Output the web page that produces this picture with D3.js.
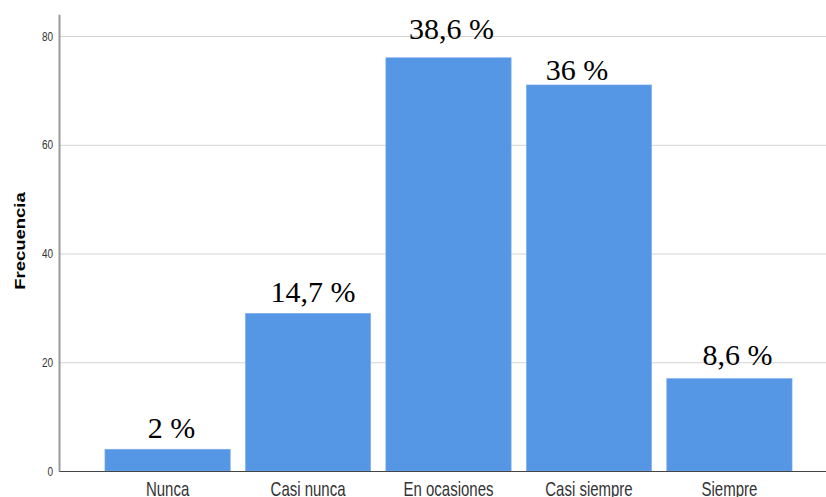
<!DOCTYPE html>
<html>
<head>
<meta charset="utf-8">
<script src="https://cdn.jsdelivr.net/npm/d3@7"></script>
<style>
  html, body { margin: 0; padding: 0; background: #fff; }
  svg { display: block; }
</style>
</head>
<body>
<svg id="chart" width="826" height="497"></svg>
<script>
const categories = ["Nunca", "Casi nunca", "En ocasiones", "Casi siempre", "Siempre"];
const frequencies = [4, 29, 76, 71, 17];
const percentLabels = ["2 %", "14,7 %", "38,6 %", "36 %", "8,6 %"];
const yTicks = [0, 20, 40, 60, 80];
const yTitle = "Frecuencia";

const W = 826, H = 497;
const svg = d3.select("#chart");

const axisX = 59, baseY = 471, pxPerUnit = 5.4375;
const yMax = 84;
const stretch = 1.32; // reference image is vertically stretched
const y = d3.scaleLinear().domain([0, yMax]).range([baseY, baseY - yMax * pxPerUnit]);
const x = d3.scaleBand().domain(categories).range([axisX, 838])
  .paddingInner(0.108).paddingOuter(0.327);

// gridlines
svg.append("g").selectAll("line").data(yTicks.filter(d => d > 0)).join("line")
  .attr("x1", axisX).attr("x2", W)
  .attr("y1", d => y(d) + 0.5).attr("y2", d => y(d) + 0.5)
  .attr("stroke", "#d4d4d4").attr("stroke-width", 1);

// bars
svg.append("g").selectAll("rect").data(categories).join("rect")
  .attr("x", d => x(d))
  .attr("y", (d, i) => y(frequencies[i]))
  .attr("width", x.bandwidth())
  .attr("height", (d, i) => baseY - y(frequencies[i]))
  .attr("fill", "#5596e5")
  .attr("stroke", "#7fb0ec").attr("stroke-width", 0.6);

// baseline
svg.append("line").attr("x1", axisX).attr("x2", W)
  .attr("y1", baseY + 0.5).attr("y2", baseY + 0.5)
  .attr("stroke", "#444").attr("stroke-width", 1.2);

// y axis
const yAxis = d3.axisLeft(y).tickValues(yTicks).tickSize(0).tickPadding(6);
const gy = svg.append("g").attr("transform", `translate(${axisX},0)`).call(yAxis);
gy.select(".domain").attr("stroke", "#9a9a9a").attr("stroke-width", 2);
gy.selectAll("text").attr("font-family", "Liberation Sans, Arial, sans-serif")
  .attr("font-size", 10).attr("fill", "#333")
  .attr("transform", `scale(1,${stretch})`);

// x axis labels
const xAxis = d3.axisBottom(x).tickSize(0);
const gx = svg.append("g").attr("transform", `translate(0,${baseY})`).call(xAxis);
gx.select(".domain").remove();
gx.selectAll("text").attr("font-family", "Liberation Sans, Arial, sans-serif")
  .attr("font-size", 15).attr("fill", "#333")
  .attr("y", 0).attr("dy", 0)
  .attr("transform", `translate(0,25) scale(1,${stretch})`);

// y title
svg.append("text").attr("transform", `translate(25,241) rotate(-90) scale(${stretch},1)`)
  .attr("text-anchor", "middle")
  .attr("font-family", "Liberation Sans, Arial, sans-serif")
  .attr("font-weight", "bold").attr("font-size", 14).attr("fill", "#000")
  .text(yTitle);

// percentage labels (offsets above bar tops as drawn in reference)
const labelDy = [11, 11, 19, 5, 14];
const labelDx = [4, 5, 3, -12, 8];
svg.append("g").selectAll("text").data(categories).join("text")
  .attr("x", (d, i) => x(d) + x.bandwidth() / 2 + labelDx[i])
  .attr("y", (d, i) => y(frequencies[i]) - labelDy[i])
  .attr("text-anchor", "middle")
  .attr("font-family", "Liberation Serif, Times New Roman, serif")
  .attr("font-size", 30).attr("fill", "#000")
  .text((d, i) => percentLabels[i]);
</script>
</body>
</html>
